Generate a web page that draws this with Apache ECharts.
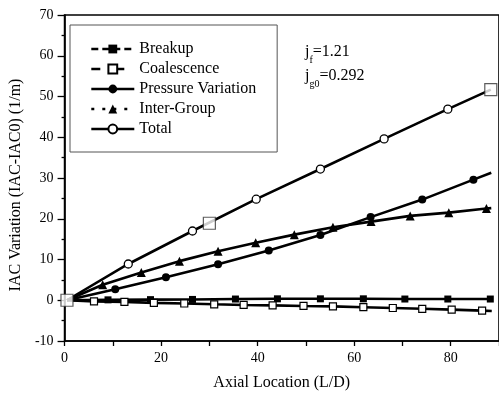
<!DOCTYPE html>
<html>
<head>
<meta charset="utf-8">
<script src="https://cdn.jsdelivr.net/npm/echarts@6/dist/echarts.min.js"></script>
<style>
  html, body { margin: 0; padding: 0; background: #fff; }
  #chart { width: 499px; height: 397px; }
</style>
</head>
<body>
<div id="chart"></div>
<script>
// Axial development of interfacial area concentration (IAC) source contributions
const breakX = [0.5, 9.0, 17.8, 26.5, 35.4, 44.1, 53.0, 61.9, 70.5, 79.4, 88.2];
const breakY = [0, 0.1, 0.15, 0.2, 0.3, 0.35, 0.35, 0.35, 0.3, 0.3, 0.3];

const coalX = [0.5, 6.1, 12.4, 18.5, 24.8, 31.0, 37.1, 43.1, 49.5, 55.6, 61.9, 68.0, 74.1, 80.2, 86.5, 88.5];
const coalY = [0, -0.3, -0.4, -0.65, -0.8, -1.0, -1.15, -1.25, -1.4, -1.5, -1.7, -1.9, -2.1, -2.3, -2.55, -2.65];

const pressX = [0.5, 10.5, 21.0, 31.8, 42.3, 53.0, 63.4, 74.1, 84.7, 88.4];
const pressY = [0, 2.7, 5.65, 8.85, 12.2, 16.0, 20.4, 24.7, 29.6, 31.3];

const interX = [0.5, 7.9, 15.9, 23.8, 31.8, 39.6, 47.6, 55.6, 63.5, 71.6, 79.6, 87.4, 88.4];
const interY = [0, 3.8, 6.8, 9.6, 12.0, 14.1, 16.1, 17.9, 19.3, 20.7, 21.5, 22.5, 22.6];

const totalX = [0.5, 13.2, 26.5, 39.7, 53.0, 66.2, 79.4, 88.3];
const totalY = [0, 8.9, 17.0, 24.8, 32.2, 39.6, 46.9, 51.7];

// Measured totals (large open squares)
const measX = [0.5, 30.0, 88.3];
const measY = [0, 18.9, 51.7];

const seriesNames = ['Breakup', 'Coalescence', 'Pressure Variation', 'Inter-Group', 'Total'];
const xTicks = { min: 0, max: 90, interval: 20 };
const yTicks = { min: -10, max: 70, interval: 10 };

const FONT = '"Liberation Serif", "Times New Roman", serif';
const LW = 2.6;

// Build [x, y] pairs; points listed in `bare` are drawn without a marker
function pairs(xs, ys, bare) {
  return xs.map((x, i) => bare.includes(i)
    ? { value: [x, ys[i]], symbol: 'none' }
    : [x, ys[i]]);
}
const last = a => a.length - 1;

const lineBase = { type: 'line', lineStyle: { color: '#000', width: LW }, z: 3, silent: true };

const chart = echarts.init(document.getElementById('chart'), null, { renderer: 'canvas' });
chart.setOption({
  animation: false,
  backgroundColor: '#fff',
  textStyle: { fontFamily: FONT, color: '#000' },
  grid: {
    left: 61, top: 15, right: -3, bottom: 56,
    show: true, borderColor: '#000', borderWidth: 1.6, backgroundColor: 'transparent'
  },
  xAxis: {
    type: 'value',
    min: xTicks.min, max: xTicks.max, interval: xTicks.interval,
    name: 'Axial Location (L/D)',
    nameLocation: 'middle', nameGap: 34,
    nameTextStyle: { fontFamily: FONT, fontSize: 16, color: '#000' },
    axisLine: { onZero: false, lineStyle: { color: '#000', width: 1.6 } },
    axisTick: { show: true, inside: false, length: 5, lineStyle: { color: '#000', width: 1.3 } },
    minorTick: { show: true, splitNumber: 2, length: 5, lineStyle: { color: '#000', width: 1.3 } },
    axisLabel: { fontFamily: FONT, fontSize: 14, color: '#000', margin: 10, showMaxLabel: false },
    splitLine: { show: false }
  },
  yAxis: {
    type: 'value',
    min: yTicks.min, max: yTicks.max, interval: yTicks.interval,
    name: 'IAC Variation (IAC-IAC0) (1/m)',
    nameLocation: 'middle', nameGap: 37,
    nameTextStyle: { fontFamily: FONT, fontSize: 16, color: '#000', padding: [0, 0, 0, -14] },
    axisLine: { onZero: false, lineStyle: { color: '#000', width: 1.6 } },
    axisTick: { show: true, inside: false, length: 7, lineStyle: { color: '#000', width: 1.3 } },
    minorTick: { show: true, splitNumber: 2, length: 3, lineStyle: { color: '#000', width: 1.3 } },
    axisLabel: { fontFamily: FONT, fontSize: 14, color: '#000', margin: 11 },
    splitLine: { show: false }
  },
  legend: {
    orient: 'vertical',
    left: 70, top: 25,
    padding: [16, 21, 15, 20],
    itemWidth: 43, itemHeight: 11, itemGap: 4,
    borderColor: '#555', borderWidth: 1,
    backgroundColor: '#fff',
    textStyle: { fontFamily: FONT, fontSize: 16, color: '#000' },
    data: [
      { name: seriesNames[0], lineStyle: { width: LW, type: [7, 4] } },
      { name: seriesNames[1], lineStyle: { width: LW, type: [9, 15] } },
      { name: seriesNames[2], lineStyle: { width: LW } },
      { name: seriesNames[3], lineStyle: { width: LW, type: [3, 8] } },
      { name: seriesNames[4], lineStyle: { width: LW } }
    ]
  },
  graphic: [
    {
      type: 'text', left: 305, top: 44, z: 10,
      style: {
        text: '{m|j}{s|f}{m|=1.21}',
        rich: {
          m: { fontFamily: FONT, fontSize: 16, fill: '#000', verticalAlign: 'bottom', lineHeight: 18 },
          s: { fontFamily: FONT, fontSize: 10, fill: '#000', verticalAlign: 'bottom', lineHeight: 12, padding: [0, 0, -5, 0] }
        }
      }
    },
    {
      type: 'text', left: 305, top: 68, z: 10,
      style: {
        text: '{m|j}{s|g0}{m|=0.292}',
        rich: {
          m: { fontFamily: FONT, fontSize: 16, fill: '#000', verticalAlign: 'bottom', lineHeight: 18 },
          s: { fontFamily: FONT, fontSize: 10, fill: '#000', verticalAlign: 'bottom', lineHeight: 12, padding: [0, 0, -5, 0] }
        }
      }
    }
  ],
  series: [
    Object.assign({}, lineBase, {
      name: seriesNames[0],
      symbol: 'rect', symbolSize: 7,
      itemStyle: { color: '#000' },
      data: pairs(breakX, breakY, [0])
    }),
    Object.assign({}, lineBase, {
      name: seriesNames[1],
      symbol: 'rect', symbolSize: 7,
      itemStyle: { color: '#fff', borderColor: '#000', borderWidth: 1.2 },
      data: pairs(coalX, coalY, [0, last(coalX)])
    }),
    Object.assign({}, lineBase, {
      name: seriesNames[2],
      symbol: 'circle', symbolSize: 8,
      itemStyle: { color: '#000' },
      data: pairs(pressX, pressY, [0, last(pressX)])
    }),
    Object.assign({}, lineBase, {
      name: seriesNames[3],
      symbol: 'triangle', symbolSize: 9,
      itemStyle: { color: '#000' },
      data: pairs(interX, interY, [0, last(interX)])
    }),
    Object.assign({}, lineBase, {
      name: seriesNames[4],
      symbol: 'circle', symbolSize: 8,
      itemStyle: { color: '#fff', borderColor: '#000', borderWidth: 1.3 },
      data: pairs(totalX, totalY, [0, last(totalX)])
    }),
    {
      type: 'scatter',
      name: 'measured',
      symbol: 'rect', symbolSize: 12,
      itemStyle: { color: '#fff', borderColor: '#333', borderWidth: 1.2 },
      z: 5, silent: true,
      data: measX.map((x, i) => [x, measY[i]])
    }
  ]
});
</script>
</body>
</html>
